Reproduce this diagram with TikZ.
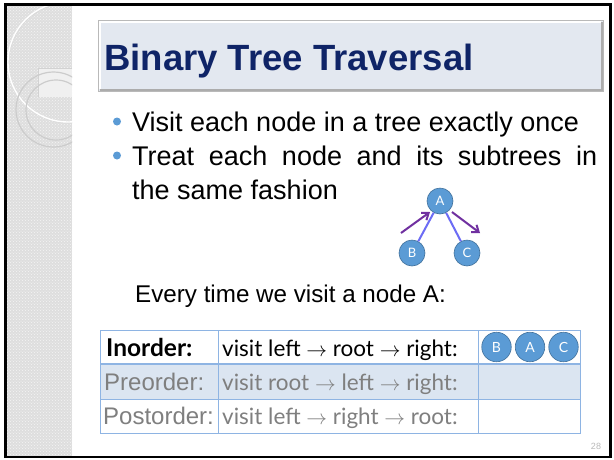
\documentclass[tikz,border=0pt]{standalone}
\usepackage{fontspec}
\setmainfont{Liberation Sans}
\newfontfamily\gill{Lato}
\usetikzlibrary{arrows.meta,patterns}

\definecolor{navy}{HTML}{0F2467}
\definecolor{bandgray}{HTML}{DEDEDE}
\definecolor{titlefill}{HTML}{E3E8F0}
\definecolor{bulletblue}{HTML}{5B9BD5}
\definecolor{nodeblue}{HTML}{5B9BD5}
\definecolor{nodeedge}{HTML}{41719C}
\definecolor{edgeblue}{HTML}{6C6CF5}
\definecolor{arrowpurple}{HTML}{7030A0}
\definecolor{tableline}{HTML}{8EB4E3}
\definecolor{rowfill}{HTML}{DBE5F1}
\definecolor{fadedtext}{HTML}{7F7F7F}

\tikzset{
  tnode/.style={circle, fill=nodeblue, draw=nodeedge, line width=0.6pt,
    minimum size=26pt, inner sep=0pt, text=white,
    font=\gill\fontsize{13}{13}\selectfont},
  cellnode/.style={tnode, minimum size=29.5pt, font=\gill\fontsize{14}{14}\selectfont},
  treeedge/.style={draw=edgeblue, line width=2pt},
  walk/.style={draw=arrowpurple, line width=2pt, -{Straight Barb[length=6pt,width=9pt]}},
  bullettext/.style={anchor=base west, inner sep=0pt, font=\fontsize{27}{32}\selectfont},
  celltext/.style={anchor=base west, inner sep=0pt, font=\gill\fontsize{22.5}{26}\selectfont},
  rowlabel/.style={anchor=base west, inner sep=0pt, font=\fontsize{24}{28}\selectfont, text=fadedtext},
}

\begin{document}
\begin{tikzpicture}[x=1pt,y=-1pt]
\useasboundingbox (0,0) rectangle (614,459);
\fill[white] (0,0) rectangle (614,459);

% textured side band with its ornaments
\fill[bandgray] (7,5) rectangle (72,456);
\fill[pattern=crosshatch dots, pattern color=white!70!bandgray] (7,5) rectangle (72,456);
\begin{scope}
  \clip (7,5) rectangle (72,456);
  \fill[white!55!bandgray] (38,68) rectangle (72,97);
  \draw[gray!35, line width=0.6pt] (38,97) -- (38,68) -- (72,68);
  \draw[gray!30, line width=1pt] (68.5,63) circle (60);
  \draw[white, line width=1.4pt] (68,62) circle (60);
  \draw[gray!40, line width=1.2pt] (53.5,109.5) circle (37.5);
  \draw[gray!40, line width=1.2pt] (56,110) circle (30);
\end{scope}

% slide frame
\draw[black, line width=2.5pt] (5.5,4.5) rectangle (610.5,457);

% title bar
\fill[titlefill] (98,20) rectangle (603,91);
\draw[gray!55, line width=0.8pt] (98,20) rectangle (603,91);
\draw[white, line width=1.5pt] (100,89) -- (100,22) -- (601,22);
\draw[gray!65, line width=2pt] (100,90) -- (602,90) -- (602,22);
\node[anchor=base west, inner sep=0pt, text=navy,
  font=\fontsize{36.5}{40}\bfseries\selectfont] (title) at (104,70) {Binary Tree Traversal};

% bullets
\fill[bulletblue] (117,121.5) circle (4);
\node[bullettext] (b1) at (132,131) {Visit each node in a tree exactly once};
\fill[bulletblue] (117,155.5) circle (4);
\node[bullettext] (b2) at (132,165) {\makebox[465pt][s]{Treat each node and its subtrees in}};
\node[bullettext] (b3) at (132,199) {the same fashion};

% small tree
\node[tnode] (A) at (440,201) {A};
\node[tnode] (B) at (412,253) {B};
\node[tnode] (C) at (467,253) {C};
\draw[treeedge] (A) -- (B);
\draw[treeedge] (A) -- (C);
\coordinate (upstart) at (401,233);
\coordinate (upend) at (430,212);
\coordinate (downstart) at (452,212);
\coordinate (downend) at (480,233);
\draw[walk] (upstart) -- (upend);
\draw[walk] (downstart) -- (downend);

\node[anchor=base west, inner sep=0pt, font=\fontsize{24.2}{28}\selectfont] (every) at (135,302) {Every time we visit a node A:};

% traversal table
\fill[rowfill] (100,364) rectangle (580,399);
\draw[tableline, line width=1pt] (100,330) rectangle (580,433);
\draw[tableline, line width=1.6pt] (100,364) -- (580,364);
\draw[tableline, line width=1pt] (100,399) -- (580,399);
\draw[tableline, line width=1pt] (218,330) -- (218,433);
\draw[tableline, line width=1pt] (478,330) -- (478,433);

\node[celltext, font=\gill\bfseries\fontsize{24.5}{28}\selectfont] (inlabel) at (106,356) {Inorder:};
\node[celltext] (inrule) at (222,356) {visit left $\rightarrow$ root $\rightarrow$ right:};
\node[rowlabel] (prelabel) at (104,390) {Preorder:};
\node[celltext, text=fadedtext] (prerule) at (222,390) {visit root $\rightarrow$ left $\rightarrow$ right:};
\node[rowlabel] (postlabel) at (103,424) {Postorder:};
\node[celltext, text=fadedtext] (postrule) at (222,424) {visit left $\rightarrow$ right $\rightarrow$ root:};

\node[cellnode] (oB) at (496.5,347) {B};
\node[cellnode] (oA) at (530,347) {A};
\node[cellnode] (oC) at (563.5,347) {C};

% page number
\node[inner sep=0pt, text=gray!55, font=\fontsize{9}{9}\selectfont] (page) at (596,446) {28};
\end{tikzpicture}
\end{document}
